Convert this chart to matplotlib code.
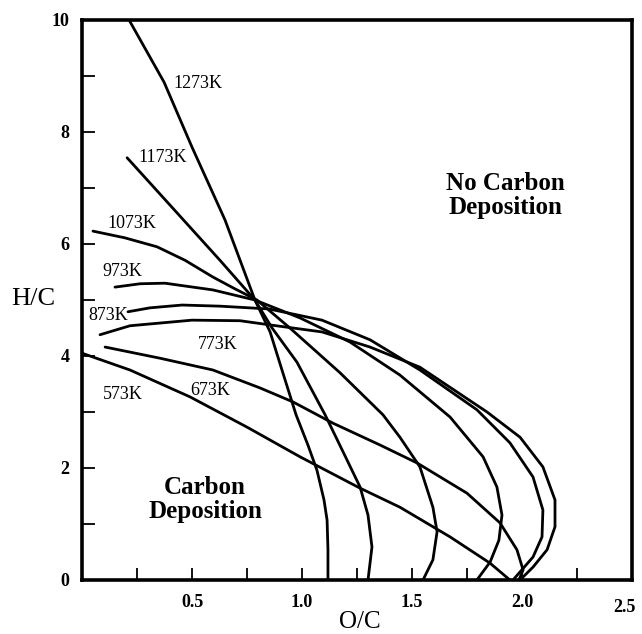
import matplotlib
matplotlib.use("Agg")
import matplotlib.pyplot as plt

# Carbon deposition boundaries, O/C vs H/C
oc_1273 = [0.214, 0.373, 0.500, 0.650, 0.786, 0.855, 0.909, 0.973, 1.027, 1.068, 1.100, 1.114, 1.118, 1.118]
hc_1273 = [10.0, 8.89, 7.73, 6.43, 5.00, 4.43, 3.75, 2.95, 2.41, 1.96, 1.43, 1.07, 0.54, 0.0]

oc_1173 = [0.205, 0.355, 0.491, 0.627, 0.786, 0.864, 0.977, 1.105, 1.205, 1.264, 1.300, 1.318, 1.300]
hc_1173 = [7.54, 6.89, 6.30, 5.71, 5.00, 4.50, 3.89, 2.95, 2.14, 1.66, 1.16, 0.59, 0.0]

oc_1073 = [0.050, 0.195, 0.341, 0.468, 0.595, 0.695, 0.795, 0.945, 1.173, 1.368, 1.445, 1.536, 1.595, 1.614, 1.595, 1.550]
hc_1073 = [6.23, 6.11, 5.95, 5.71, 5.41, 5.20, 5.00, 4.50, 3.70, 2.95, 2.55, 2.02, 1.30, 0.86, 0.36, 0.0]

oc_973 = [0.150, 0.264, 0.377, 0.595, 0.786, 0.991, 1.218, 1.445, 1.673, 1.823, 1.886, 1.909, 1.895, 1.855, 1.795]
hc_973 = [5.23, 5.29, 5.30, 5.18, 5.00, 4.68, 4.25, 3.66, 2.91, 2.20, 1.66, 1.16, 0.71, 0.32, 0.0]

oc_873 = [0.209, 0.309, 0.455, 0.627, 0.850, 1.091, 1.309, 1.536, 1.795, 1.945, 2.050, 2.095, 2.091, 2.050, 1.959]
hc_873 = [4.79, 4.86, 4.91, 4.89, 4.84, 4.64, 4.29, 3.75, 3.04, 2.45, 1.84, 1.25, 0.77, 0.41, 0.0]

oc_773 = [0.082, 0.218, 0.500, 0.718, 0.864, 1.091, 1.309, 1.536, 1.841, 1.991, 2.095, 2.150, 2.150, 2.114, 2.050, 1.991]
hc_773 = [4.38, 4.54, 4.64, 4.63, 4.55, 4.43, 4.16, 3.80, 3.00, 2.55, 2.02, 1.43, 0.95, 0.54, 0.23, 0.0]

oc_673 = [0.105, 0.355, 0.595, 0.809, 0.959, 1.141, 1.355, 1.523, 1.750, 1.900, 1.977, 2.005, 1.986]
hc_673 = [4.16, 3.96, 3.75, 3.43, 3.18, 2.80, 2.41, 2.09, 1.55, 1.02, 0.54, 0.18, 0.0]

oc_573 = [0.000, 0.218, 0.491, 0.750, 0.991, 1.264, 1.445, 1.673, 1.855, 1.945]
hc_573 = [4.05, 3.75, 3.27, 2.73, 2.20, 1.64, 1.30, 0.77, 0.30, 0.0]

curve_names = ["1273K", "1173K", "1073K", "973K", "873K", "773K", "673K", "573K"]
curves_oc = [oc_1273, oc_1173, oc_1073, oc_973, oc_873, oc_773, oc_673, oc_573]
curves_hc = [hc_1273, hc_1173, hc_1073, hc_973, hc_873, hc_773, hc_673, hc_573]

x_ticks = [0.25, 0.5, 0.75, 1.0, 1.25, 1.5, 1.75, 2.0, 2.25]
x_tick_labels = ["", "0.5", "", "1.0", "", "1.5", "", "2.0", ""]
y_ticks = [0, 1, 2, 3, 4, 5, 6, 7, 8, 9, 10]
y_tick_labels = ["0", "", "2", "", "4", "", "6", "", "8", "", "10"]

SERIF = ["Liberation Serif", "DejaVu Serif"]
plt.rcParams["font.family"] = SERIF

fig = plt.figure(figsize=(6.42, 6.34), dpi=100)
ax = fig.add_axes([82 / 642, 54 / 634, 550 / 642, 560 / 634])

for oc, hc in zip(curves_oc, curves_hc):
    ax.plot(oc, hc, color="black", lw=2.0, solid_joinstyle="round", solid_capstyle="round")

# curve labels (left edge, vertical centre)
label_pos = {
    "1273K": (0.414, 8.86), "1173K": (0.255, 7.55), "1073K": (0.114, 6.36),
    "973K": (0.091, 5.50), "873K": (0.027, 4.73), "773K": (0.527, 4.20),
    "673K": (0.491, 3.39), "573K": (0.095, 3.32),
}
for name in curve_names:
    x, y = label_pos[name]
    ax.text(x, y, name, fontsize=13, ha="left", va="center")

ax.text(1.923, 6.87, "No Carbon\nDeposition", fontsize=18, fontweight="bold",
        ha="center", va="center", linespacing=1.05)
ax.text(0.559, 1.43, "Carbon\nDeposition", fontsize=18, fontweight="bold",
        ha="center", va="center", linespacing=1.05)

ax.set_xlim(0, 2.5)
ax.set_ylim(0, 10)
ax.set_xticks(x_ticks)
ax.set_xticklabels(x_tick_labels)
ax.set_yticks(y_ticks)
ax.set_yticklabels(y_tick_labels)
ax.tick_params(direction="in", length=9, width=1.3, labelsize=13)
ax.tick_params(axis="x", pad=10)
ax.tick_params(axis="y", pad=9)
for lab in ax.get_xticklabels() + ax.get_yticklabels():
    lab.set_fontweight("bold")
for sp in ax.spines.values():
    sp.set_linewidth(2.6)

fig.text(624 / 642, 1 - 608 / 634, "2.5", fontsize=13, fontweight="bold",
         ha="center", va="center")
fig.text(33 / 642, 1 - 299 / 634, "H/C", fontsize=19, ha="center", va="center")
fig.text(360 / 642, 1 - 611 / 634, "O/C", fontsize=18, ha="center", va="top")

fig.savefig("out.png", dpi=100)
